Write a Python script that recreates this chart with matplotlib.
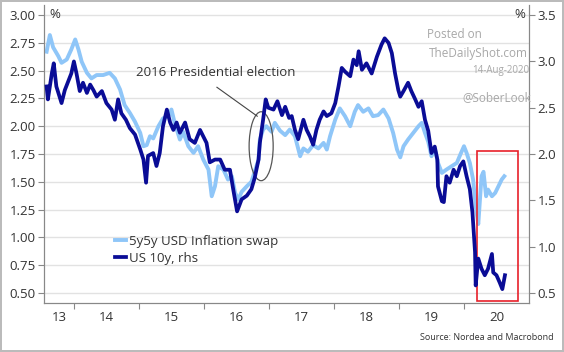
import numpy as np
import matplotlib.pyplot as plt
from matplotlib.patches import Ellipse, Rectangle

plt.rcParams['font.family'] = ['Open Sans', 'DejaVu Sans']

# 5y5y USD inflation swap (left axis), decimal years
swap_t = [2013.58, 2013.63, 2013.68, 2013.76, 2013.81, 2013.89, 2013.96, 2014.02, 2014.07, 2014.12,
          2014.20, 2014.27, 2014.35, 2014.45, 2014.55, 2014.63, 2014.71, 2014.78, 2014.86, 2014.94,
          2015.02, 2015.07, 2015.12, 2015.17, 2015.22, 2015.30, 2015.37, 2015.45, 2015.50, 2015.55,
          2015.63, 2015.68, 2015.76, 2015.84, 2015.91, 2015.99, 2016.07, 2016.12, 2016.17, 2016.22,
          2016.30, 2016.37, 2016.43, 2016.48, 2016.53, 2016.58, 2016.66, 2016.73, 2016.78, 2016.84,
          2016.86, 2016.91, 2016.96, 2017.04, 2017.09, 2017.17, 2017.25, 2017.32, 2017.40, 2017.48,
          2017.53, 2017.60, 2017.68, 2017.76, 2017.84, 2017.89, 2017.94, 2018.02, 2018.09, 2018.17,
          2018.25, 2018.32, 2018.37, 2018.45, 2018.53, 2018.60, 2018.68, 2018.76, 2018.84, 2018.91,
          2018.97, 2019.02, 2019.07, 2019.14, 2019.22, 2019.30, 2019.35, 2019.40, 2019.45, 2019.50,
          2019.55, 2019.60, 2019.66, 2019.73, 2019.81, 2019.89, 2019.94, 2020.00, 2020.04, 2020.09,
          2020.14, 2020.18, 2020.22, 2020.27, 2020.30, 2020.34, 2020.37, 2020.43, 2020.48, 2020.53,
          2020.58, 2020.62]
swap = [2.67, 2.82, 2.71, 2.63, 2.57, 2.60, 2.69, 2.78, 2.69, 2.58,
        2.48, 2.43, 2.46, 2.46, 2.48, 2.43, 2.33, 2.19, 2.12, 2.04,
        1.94, 1.82, 1.83, 1.91, 1.89, 2.00, 2.07, 2.09, 2.15, 2.03,
        1.88, 1.95, 1.82, 1.76, 1.82, 1.70, 1.61, 1.37, 1.46, 1.64,
        1.61, 1.52, 1.55, 1.40, 1.34, 1.41, 1.46, 1.50, 1.59, 1.70,
        1.88, 1.97, 2.00, 1.95, 2.03, 1.96, 1.92, 1.97, 1.91, 1.73,
        1.80, 1.77, 1.83, 1.80, 1.85, 1.79, 1.91, 2.06, 2.16, 2.09,
        2.00, 2.13, 2.19, 2.13, 2.16, 2.09, 2.10, 2.15, 2.07, 1.94,
        1.79, 1.72, 1.82, 1.88, 1.94, 2.00, 2.03, 1.94, 1.86, 1.73,
        1.80, 1.67, 1.58, 1.61, 1.64, 1.67, 1.74, 1.82, 1.76, 1.67,
        1.52, 1.28, 1.12, 1.55, 1.59, 1.37, 1.43, 1.37, 1.40, 1.46,
        1.52, 1.55]

# US 10y yield (right axis)
ust_t = [2013.58, 2013.60, 2013.66, 2013.69, 2013.73, 2013.81, 2013.86, 2013.91, 2013.96, 2014.00,
         2014.04, 2014.09, 2014.14, 2014.20, 2014.25, 2014.30, 2014.35, 2014.43, 2014.50, 2014.58,
         2014.63, 2014.68, 2014.73, 2014.80, 2014.86, 2014.94, 2015.02, 2015.07, 2015.11, 2015.14,
         2015.22, 2015.27, 2015.32, 2015.37, 2015.43, 2015.48, 2015.53, 2015.58, 2015.63, 2015.71,
         2015.78, 2015.86, 2015.94, 2016.04, 2016.09, 2016.17, 2016.25, 2016.32, 2016.40, 2016.45,
         2016.51, 2016.58, 2016.66, 2016.73, 2016.78, 2016.84, 2016.86, 2016.91, 2016.95, 2016.99,
         2017.07, 2017.13, 2017.20, 2017.25, 2017.31, 2017.35, 2017.40, 2017.45, 2017.53, 2017.58,
         2017.63, 2017.68, 2017.73, 2017.78, 2017.84, 2017.89, 2017.96, 2018.02, 2018.07, 2018.12,
         2018.17, 2018.25, 2018.30, 2018.35, 2018.38, 2018.43, 2018.50, 2018.58, 2018.66, 2018.73,
         2018.78, 2018.84, 2018.89, 2018.94, 2018.99, 2019.02, 2019.07, 2019.14, 2019.19, 2019.25,
         2019.30, 2019.35, 2019.40, 2019.45, 2019.50, 2019.55, 2019.59, 2019.60, 2019.66, 2019.69,
         2019.73, 2019.78, 2019.84, 2019.89, 2019.94, 2019.99, 2020.04, 2020.09, 2020.13, 2020.17,
         2020.18, 2020.22, 2020.27, 2020.32, 2020.37, 2020.43, 2020.45, 2020.50, 2020.55, 2020.59,
         2020.63]
ust = [2.73, 2.59, 2.87, 2.98, 2.73, 2.55, 2.69, 2.78, 2.87, 3.00,
       2.87, 2.68, 2.77, 2.66, 2.75, 2.69, 2.62, 2.68, 2.55, 2.48,
       2.37, 2.59, 2.44, 2.37, 2.28, 2.21, 2.05, 1.94, 1.69, 1.98,
       2.01, 1.87, 2.01, 2.30, 2.48, 2.34, 2.26, 2.34, 2.23, 2.34,
       2.16, 2.12, 2.26, 2.12, 1.91, 1.94, 1.94, 1.83, 1.83, 1.62,
       1.38, 1.51, 1.55, 1.62, 1.74, 1.94, 2.12, 2.37, 2.59, 2.50,
       2.48, 2.57, 2.42, 2.51, 2.39, 2.41, 2.26, 2.16, 2.37, 2.26,
       2.19, 2.10, 2.26, 2.37, 2.46, 2.41, 2.44, 2.55, 2.73, 2.93,
       2.89, 2.84, 3.02, 2.96, 3.11, 2.91, 2.98, 2.87, 3.05, 3.18,
       3.25, 3.20, 3.09, 2.87, 2.69, 2.62, 2.68, 2.77, 2.68, 2.59,
       2.51, 2.57, 2.37, 2.25, 2.01, 2.08, 1.94, 1.65, 1.49, 1.48,
       1.76, 1.69, 1.83, 1.76, 1.87, 1.92, 1.76, 1.62, 1.37, 0.94,
       0.58, 0.87, 0.76, 0.69, 0.76, 0.92, 0.72, 0.69, 0.61, 0.54,
       0.69]

year_ticks = [2014, 2015, 2016, 2017, 2018, 2019, 2020]
year_label_pos = [2013.77, 2014.5, 2015.5, 2016.5, 2017.5, 2018.5, 2019.5, 2020.5]
year_labels = ['13', '14', '15', '16', '17', '18', '19', '20']
left_ticks = [0.5, 0.75, 1.0, 1.25, 1.5, 1.75, 2.0, 2.25, 2.5, 2.75, 3.0]
right_ticks = [0.5, 1.0, 1.5, 2.0, 2.5, 3.0, 3.5]

light = '#8FC6F8'
dark = '#0A0C96'
txt = '#333333'

fig = plt.figure(figsize=(5.64, 3.52), dpi=100)
fig.patch.set_edgecolor('#BBBBBB')
fig.patch.set_linewidth(1.5)
ax = fig.add_axes([44/564, 1 - 303/352, 485/564, 298/352])
ax2 = ax.twinx()

ax.plot(swap_t, swap, color=light, lw=2.8, label='5y5y USD Inflation swap', zorder=3)
ax2.plot(ust_t, ust, color=dark, lw=2.7, label='US 10y, rhs', zorder=3)

ax.set_xlim(2013.54, 2021.0)
ax.set_ylim(0.41, 3.09)
ax2.set_ylim(0.39, 3.61)

ax.set_yticks(left_ticks)
ax.set_yticklabels(['%.2f' % v for v in left_ticks])
ax2.set_yticks(right_ticks)
ax2.set_yticklabels(['%.1f' % v for v in right_ticks])
ax.grid(axis='y', color='#E2E2E2', lw=1)
ax.set_axisbelow(True)

ax.set_xticks(year_ticks)
ax.set_xticklabels([])
ax.set_xticks(year_label_pos, minor=True)
ax.set_xticklabels(year_labels, minor=True)
ax.tick_params(axis='x', which='major', length=4, color='#888888', direction='out')
ax.tick_params(axis='x', which='minor', length=0, pad=6, labelsize=9.5, labelcolor=txt)
ax.tick_params(axis='y', length=4, color='#888888', labelsize=9.5, labelcolor=txt, pad=2)
ax2.tick_params(axis='y', length=4, color='#888888', labelsize=9.5, labelcolor=txt, pad=2)

for a in (ax, ax2):
    a.spines['top'].set_visible(False)
    for s in ('left', 'right', 'bottom'):
        a.spines[s].set_color('#888888')

# annotation: election ellipse and pointer
ax.add_patch(Ellipse((2016.88, 1.82), 0.37, 0.62, angle=0, fill=False,
                     edgecolor='#555555', lw=0.9, zorder=5))
ax.plot([2016.20, 2016.82], [2.35, 2.09], color='#444444', lw=0.8, zorder=5)
ax.text(2016.18, 2.48, '2016 Presidential election', ha='center', va='center',
        fontsize=9.5, color=txt)

# red highlight box
ax.add_patch(Rectangle((2020.2, 0.43), 0.63, 1.345, fill=False,
                       edgecolor='#E8202A', lw=1.2, zorder=6))

h1, l1 = ax.get_legend_handles_labels()
h2, l2 = ax2.get_legend_handles_labels()
fig.legend(h1 + h2, l1 + l2, loc='upper left', bbox_to_anchor=(108/564, 1 - 228/352),
           frameon=False, fontsize=9.5, handlelength=0.9, handletextpad=0.2,
           labelspacing=0.3, borderpad=0, labelcolor=txt)

fig.text(55/564, 1 - 14/352, '%', fontsize=9.5, color=txt, ha='center', va='center')
fig.text(520/564, 1 - 14/352, '%', fontsize=9.5, color=txt, ha='center', va='center')

wm = '#A8A8A8'
fig.text(454/564, 1 - 35/352, 'Posted on', fontsize=8.5, color=wm, ha='center', va='center')
fig.text(478/564, 1 - 53/352, 'TheDailyShot.com', fontsize=8.5, color=wm, ha='center', va='center')
fig.text(529/564, 1 - 70/352, '14-Aug-2020', fontsize=7, color=wm, ha='right', va='center')
fig.text(497/564, 1 - 98/352, '@SoberLook', fontsize=8.5, color=wm, ha='center', va='center')

fig.text(554/564, 1 - 337/352, 'Source: Nordea and Macrobond', fontsize=6.5, color=txt,
         ha='right', va='center')

fig.savefig('out.png', dpi=100, edgecolor=fig.get_edgecolor())
